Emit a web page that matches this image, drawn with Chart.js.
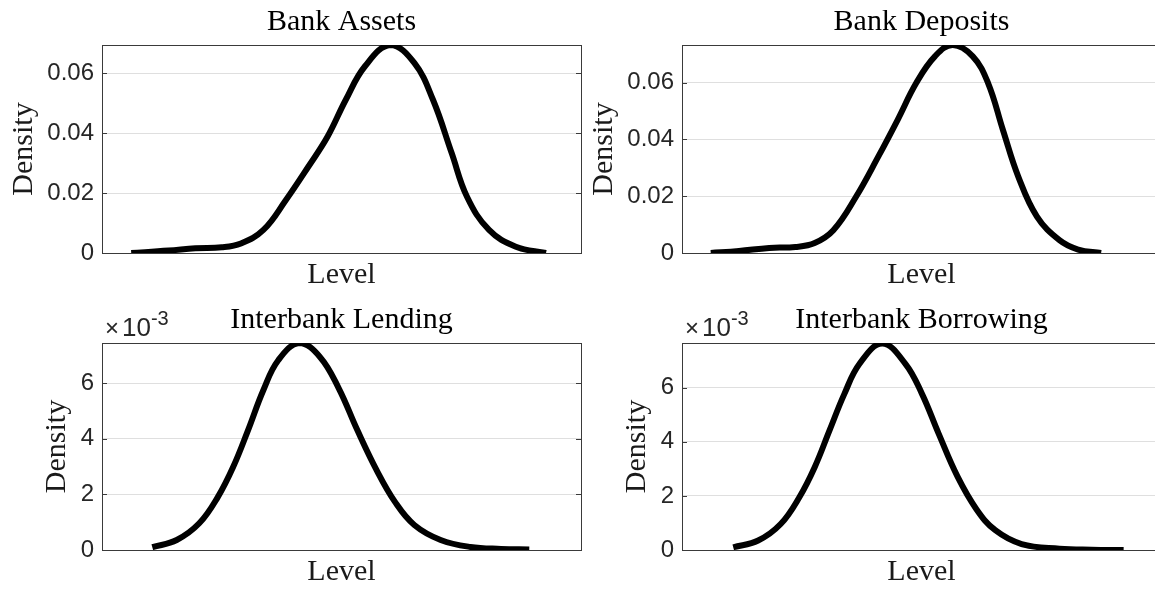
<!DOCTYPE html>
<html>
<head>
<meta charset="utf-8">
<script src="https://cdn.jsdelivr.net/npm/chart.js@4"></script>
<style>
  html, body { margin: 0; padding: 0; background: #fff; overflow: hidden; }
  #wrap { position: relative; width: 1155px; height: 590px; overflow: hidden; }
  .panel { position: absolute; width: 590px; height: 295px; }
</style>
</head>
<body>
<div id="wrap">
  <div class="panel" style="left:0;top:0"><canvas id="assetsChart" width="590" height="295"></canvas></div>
  <div class="panel" style="left:580px;top:0"><canvas id="depositsChart" width="590" height="295"></canvas></div>
  <div class="panel" style="left:0;top:295px"><canvas id="lendingChart" width="590" height="295"></canvas></div>
  <div class="panel" style="left:580px;top:295px"><canvas id="borrowingChart" width="590" height="295"></canvas></div>
</div>
<script>
const assetsLevel = [6.1, 13.9, 19.5, 25.0, 29.0, 33.7, 38.4, 43.1, 47.1, 50.9, 54.9, 60.2, 65.2, 69.1, 73.0, 76.2, 80.8, 86.4, 92.7];
const assetsDensity = [0, 0.0008, 0.0016, 0.0019, 0.0032, 0.0077, 0.0177, 0.0289, 0.0389, 0.0512, 0.0624, 0.0695, 0.0635, 0.0512, 0.0334, 0.0188, 0.0077, 0.0021, 0];

const depositsLevel = [6.0, 11.9, 18.2, 23.7, 27.7, 31.6, 36.3, 41.0, 45.0, 48.9, 52.8, 56.5, 60.7, 63.9, 67.0, 70.2, 74.1, 78.8, 82.7, 87.5];
const depositsDensity = [0, 0.0007, 0.0018, 0.0021, 0.0035, 0.008, 0.0197, 0.034, 0.0468, 0.0598, 0.0692, 0.0732, 0.0692, 0.0598, 0.0433, 0.0269, 0.0128, 0.0045, 0.0012, 0];

const lendingLevel = [10.5, 15.6, 20.3, 24.2, 27.4, 30.5, 33.7, 36.8, 41.2, 45.5, 49.4, 53.3, 57.3, 61.2, 65.2, 70.7, 76.9, 83.3, 89.2];
const lendingDensity = [0.0001, 0.00036, 0.00096, 0.00191, 0.00299, 0.00431, 0.00575, 0.00682, 0.00744, 0.00694, 0.00582, 0.00431, 0.00288, 0.00172, 0.0009, 0.00036, 0.00011, 0.00004, 0.00002];

const borrowingLevel = [10.7, 15.9, 20.6, 24.5, 27.7, 30.8, 33.9, 37.1, 41.8, 46.6, 50.1, 53.6, 57.5, 61.5, 65.4, 70.9, 78.8, 85.5, 92.2];
const borrowingDensity = [0.0001, 0.00035, 0.00096, 0.00195, 0.00306, 0.00442, 0.00577, 0.00689, 0.00763, 0.00689, 0.00577, 0.00429, 0.00272, 0.00150, 0.00073, 0.00022, 0.00005, 0.00001, 0];

const topTicks = ['0', '0.02', '0.04', '0.06'];
const bottomTicks = ['0', '2', '4', '6'];

const serif = '"Liberation Serif", "Times New Roman", serif';
const sans = '"Liberation Sans", Arial, sans-serif';

// box, inner tick marks and the serif labels, matlab style
const panelFrame = {
    id: 'panelFrame',
    beforeDatasetsDraw(chart, args, opts) {
        const ctx = chart.ctx;
        const a = chart.chartArea;
        const yScale = chart.scales.y;
        ctx.save();
        ctx.strokeStyle = '#3a3a3a';
        ctx.lineWidth = 1;
        ctx.strokeRect(a.left + 0.5, a.top + 0.5, a.right - a.left, a.bottom - a.top);
        yScale.ticks.forEach(t => {
            const y = Math.round(yScale.getPixelForValue(t.value)) + 0.5;
            ctx.beginPath();
            ctx.moveTo(a.left, y); ctx.lineTo(a.left + 5, y);
            ctx.moveTo(a.right - 5, y); ctx.lineTo(a.right, y);
            ctx.stroke();
        });

        const cx = (a.left + a.right) / 2;
        ctx.fillStyle = '#000';
        ctx.textAlign = 'center';
        ctx.textBaseline = 'alphabetic';
        ctx.font = '30px ' + serif;
        ctx.fillText(opts.title, cx, a.top - 15);
        ctx.fillStyle = '#1a1a1a';
        ctx.fillText('Level', cx, a.bottom + 30);

        ctx.save();
        ctx.translate(a.left - opts.ylabelGap, (a.top + a.bottom) / 2);
        ctx.rotate(-Math.PI / 2);
        ctx.fillText('Density', 0, 0);
        ctx.restore();

        if (opts.exponent) {
            ctx.fillStyle = '#262626';
            ctx.textAlign = 'left';
            ctx.font = '24px ' + sans;
            ctx.fillText('\u00d7', a.left + 3, a.top - 7);
            ctx.font = '26px ' + sans;
            ctx.fillText('10', a.left + 20, a.top - 7);
            const w = ctx.measureText('10').width;
            ctx.font = '20px ' + sans;
            ctx.fillText(opts.exponent, a.left + 20 + w, a.top - 18);
        }
        ctx.restore();
    }
};

function makePanel(id, levels, densities, yMax, step, tickLabels, pad, frame) {
    const points = levels.map((x, i) => ({ x: x, y: densities[i] }));
    new Chart(document.getElementById(id), {
        type: 'line',
        data: {
            datasets: [{
                data: points,
                borderColor: '#000',
                borderWidth: 6,
                pointRadius: 0,
                fill: false,
                tension: 0.4
            }]
        },
        options: {
            responsive: false,
            animation: false,
            events: [],
            layout: { padding: { top: pad.top, right: 9, bottom: pad.bottom, left: 0 } },
            plugins: {
                legend: { display: false },
                tooltip: { enabled: false },
                panelFrame: frame
            },
            scales: {
                x: { type: 'linear', min: 0, max: 100, display: false },
                y: {
                    min: 0,
                    max: yMax,
                    afterFit: s => { s.width = 102; },
                    border: { display: false },
                    grid: { color: 'rgba(38,38,38,0.15)', drawTicks: false },
                    ticks: {
                        stepSize: step,
                        includeBounds: false,
                        padding: 8,
                        color: '#262626',
                        font: { family: sans, size: 24 },
                        callback: (v, i) => tickLabels[i]
                    }
                }
            }
        },
        plugins: [panelFrame]
    });
}

makePanel('assetsChart', assetsLevel, assetsDensity, 0.0695, 0.02, topTicks,
    { top: 45, bottom: 42 }, { title: 'Bank Assets', ylabelGap: 70 });
makePanel('depositsChart', depositsLevel, depositsDensity, 0.0732, 0.02, topTicks,
    { top: 45, bottom: 42 }, { title: 'Bank Deposits', ylabelGap: 70 });
makePanel('lendingChart', lendingLevel, lendingDensity, 0.00744, 0.002, bottomTicks,
    { top: 48, bottom: 40 }, { title: 'Interbank Lending', ylabelGap: 37, exponent: '-3' });
makePanel('borrowingChart', borrowingLevel, borrowingDensity, 0.00765, 0.002, bottomTicks,
    { top: 48, bottom: 40 }, { title: 'Interbank Borrowing', ylabelGap: 37, exponent: '-3' });
</script>
</body>
</html>
